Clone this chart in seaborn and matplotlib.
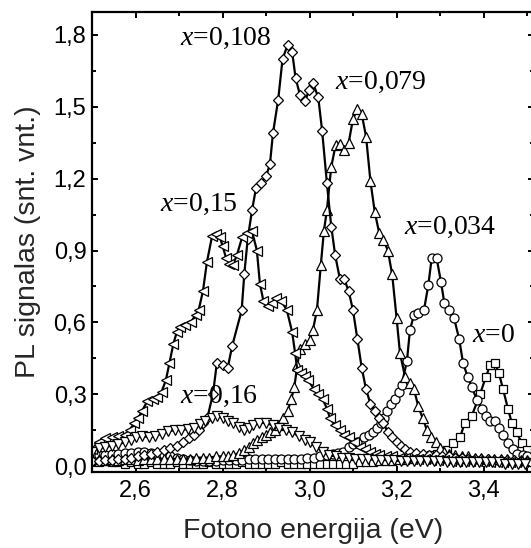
import numpy as np
import pandas as pd
import matplotlib
matplotlib.use("Agg")
import matplotlib.pyplot as plt
from matplotlib.ticker import FixedLocator, FuncFormatter
import seaborn as sns

# ---- data (photon energy eV, PL intensity a.u.) ----
x0_sq = [(2.50,0.02),(2.515,0.015),(2.53,0.02),(2.545,0.015),(2.56,0.015),(2.575,0.01),(2.59,0.015),
         (2.605,0.01),(2.62,0.01),(2.635,0.015),(2.65,0.01),(2.665,0.01),(2.68,0.01),(2.695,0.015),
         (2.71,0.01),(2.725,0.01),(2.74,0.01),(2.755,0.01),(2.77,0.015),(2.785,0.01),(2.80,0.01),
         (2.815,0.01),(2.83,0.01),(2.845,0.015),(2.86,0.01),(2.875,0.01),(2.89,0.01),(2.905,0.01),
         (2.92,0.01),(2.935,0.015),(2.95,0.01),(2.965,0.01),(2.98,0.01),(2.995,0.01),(3.01,0.01),
         (3.025,0.01),(3.04,0.01),(3.055,0.01),(3.07,0.01),(3.085,0.01),(3.10,0.01),(3.115,0.015),
         (3.13,0.015),(3.145,0.015),(3.16,0.02),(3.175,0.02),(3.19,0.02),(3.205,0.025),(3.22,0.025),
         (3.235,0.03),(3.25,0.035),(3.265,0.04),(3.28,0.045),(3.292,0.05),(3.304,0.055),(3.316,0.066),
         (3.33,0.095),(3.346,0.12),(3.357,0.18),(3.373,0.21),(3.392,0.30),(3.405,0.37),(3.415,0.42),
         (3.426,0.43),(3.435,0.39),(3.445,0.32),(3.456,0.24),(3.465,0.18),(3.476,0.14),(3.488,0.096),
         (3.50,0.067)]

x0034_circ = [(2.50,0.04),(2.515,0.045),(2.53,0.045),(2.545,0.05),(2.56,0.05),(2.575,0.055),(2.59,0.055),
              (2.605,0.06),(2.62,0.06),(2.635,0.055),(2.65,0.05),(2.665,0.045),(2.68,0.04),(2.695,0.035),
              (2.71,0.03),(2.725,0.025),(2.74,0.02),(2.755,0.02),(2.77,0.02),(2.785,0.02),(2.80,0.025),
              (2.815,0.025),(2.83,0.025),(2.845,0.025),(2.86,0.03),(2.875,0.03),(2.89,0.03),(2.905,0.03),
              (2.92,0.03),(2.935,0.03),(2.95,0.03),(2.965,0.03),(2.98,0.03),(2.995,0.035),(3.01,0.035),
              (3.025,0.04),(3.04,0.045),(3.055,0.05),(3.066,0.055),(3.077,0.06),(3.09,0.08),(3.10,0.09),
              (3.11,0.10),(3.125,0.12),(3.136,0.13),(3.146,0.14),(3.155,0.16),(3.165,0.18),(3.172,0.20),
              (3.178,0.23),(3.188,0.26),(3.197,0.28),(3.205,0.31),(3.212,0.34),(3.224,0.44),(3.231,0.57),
              (3.24,0.63),(3.25,0.64),(3.263,0.65),(3.273,0.755),(3.281,0.87),(3.292,0.87),(3.302,0.77),
              (3.31,0.68),(3.32,0.65),(3.332,0.62),(3.344,0.53),(3.353,0.43),(3.364,0.37),(3.373,0.33),
              (3.385,0.275),(3.396,0.24),(3.405,0.21),(3.415,0.19),(3.426,0.19),(3.435,0.16),(3.445,0.13),
              (3.456,0.095),(3.467,0.07),(3.478,0.05),(3.49,0.045),(3.50,0.04)]

x0079_tri = [(2.50,0.03),(2.515,0.03),(2.53,0.025),(2.545,0.03),(2.56,0.025),(2.575,0.03),(2.59,0.03),
             (2.605,0.025),(2.62,0.03),(2.635,0.03),(2.65,0.03),(2.665,0.03),(2.68,0.03),(2.695,0.03),
             (2.71,0.03),(2.725,0.03),(2.74,0.035),(2.755,0.035),(2.77,0.035),(2.785,0.04),(2.80,0.04),
             (2.812,0.04),(2.825,0.045),(2.838,0.055),(2.85,0.065),(2.86,0.08),(2.87,0.095),(2.88,0.11),
             (2.89,0.12),(2.90,0.13),(2.91,0.14),(2.92,0.15),(2.93,0.17),(2.94,0.20),(2.95,0.23),
             (2.958,0.28),(2.965,0.33),(2.972,0.42),(2.978,0.49),(2.99,0.51),(3.0,0.525),(3.008,0.57),
             (3.017,0.65),(3.026,0.84),(3.033,0.98),(3.04,1.07),(3.05,1.25),(3.06,1.34),(3.07,1.345),
             (3.08,1.32),(3.09,1.35),(3.10,1.45),(3.11,1.49),(3.12,1.47),(3.13,1.375),(3.14,1.19),
             (3.15,1.06),(3.16,0.975),(3.17,0.945),(3.18,0.90),(3.19,0.80),(3.20,0.62),(3.208,0.47),
             (3.22,0.37),(3.23,0.345),(3.24,0.32),(3.25,0.25),(3.26,0.20),(3.27,0.15),(3.28,0.12),
             (3.29,0.10),(3.30,0.075),(3.31,0.06),(3.32,0.05),(3.335,0.045),(3.35,0.04),(3.365,0.04),
             (3.38,0.035),(3.395,0.035),(3.41,0.03),(3.425,0.03),(3.44,0.03),(3.455,0.03),(3.47,0.025),
             (3.485,0.025),(3.50,0.025)]

x0108_dia = [(2.50,0.02),(2.515,0.02),(2.53,0.025),(2.545,0.025),(2.56,0.03),(2.575,0.03),(2.59,0.035),
             (2.605,0.04),(2.62,0.045),(2.635,0.05),(2.65,0.06),(2.665,0.065),(2.68,0.075),(2.695,0.085),
             (2.71,0.10),(2.722,0.115),(2.734,0.13),(2.745,0.15),(2.755,0.18),(2.765,0.20),(2.778,0.30),
             (2.787,0.43),(2.80,0.42),(2.812,0.41),(2.822,0.50),(2.844,0.65),(2.85,0.80),(2.858,0.95),
             (2.868,1.07),(2.877,1.16),(2.888,1.18),(2.90,1.21),(2.909,1.26),(2.916,1.39),(2.928,1.53),
             (2.938,1.70),(2.95,1.76),(2.96,1.73),(2.968,1.62),(2.978,1.55),(2.99,1.525),(2.999,1.57),
             (3.008,1.60),(3.02,1.54),(3.029,1.40),(3.04,1.18),(3.05,1.0),(3.059,0.88),(3.07,0.78),
             (3.08,0.78),(3.09,0.73),(3.10,0.65),(3.11,0.53),(3.12,0.41),(3.13,0.32),(3.14,0.26),
             (3.15,0.23),(3.16,0.20),(3.17,0.18),(3.18,0.14),(3.19,0.12),(3.20,0.10),(3.21,0.085),
             (3.22,0.07),(3.232,0.06),(3.245,0.055),(3.26,0.05),(3.275,0.045),(3.29,0.045),(3.305,0.04),
             (3.32,0.04),(3.335,0.035),(3.35,0.035),(3.365,0.03),(3.38,0.03),(3.395,0.03),(3.41,0.03),
             (3.425,0.025),(3.44,0.025),(3.455,0.025),(3.47,0.025),(3.485,0.02),(3.50,0.02)]

x015_ltri = [(2.50,0.07),(2.515,0.10),(2.53,0.115),(2.546,0.12),(2.56,0.125),(2.576,0.13),(2.587,0.15),
             (2.597,0.18),(2.606,0.20),(2.615,0.23),(2.627,0.27),(2.64,0.28),(2.65,0.29),(2.66,0.31),
             (2.67,0.36),(2.678,0.43),(2.687,0.51),(2.695,0.56),(2.703,0.58),(2.713,0.59),(2.727,0.60),
             (2.738,0.63),(2.745,0.65),(2.755,0.73),(2.764,0.85),(2.776,0.96),(2.786,0.97),(2.794,0.955),
             (2.80,0.92),(2.808,0.87),(2.816,0.845),(2.824,0.84),(2.833,0.88),(2.845,0.955),(2.856,0.975),
             (2.868,0.98),(2.879,0.90),(2.886,0.76),(2.894,0.69),(2.904,0.67),(2.914,0.68),(2.924,0.70),
             (2.935,0.69),(2.948,0.65),(2.96,0.56),(2.967,0.47),(2.972,0.40),(2.98,0.39),(2.99,0.375),
             (2.997,0.36),(3.01,0.32),(3.02,0.30),(3.03,0.28),(3.04,0.24),(3.047,0.20),(3.058,0.17),
             (3.07,0.15),(3.08,0.13),(3.09,0.12),(3.103,0.10),(3.116,0.08),(3.128,0.07),(3.14,0.06),
             (3.15,0.05),(3.16,0.045),(3.175,0.04),(3.19,0.04),(3.205,0.035),(3.22,0.035),(3.235,0.03),
             (3.25,0.03),(3.265,0.03),(3.28,0.025),(3.295,0.025),(3.31,0.025),(3.325,0.02),(3.34,0.02),
             (3.355,0.02),(3.37,0.02),(3.385,0.02),(3.40,0.02),(3.415,0.015),(3.43,0.015),(3.445,0.015),
             (3.46,0.015),(3.475,0.015),(3.49,0.015),(3.50,0.015)]

x016_dtri = [(2.50,0.06),(2.516,0.075),(2.53,0.08),(2.545,0.085),(2.56,0.09),(2.575,0.10),(2.59,0.11),
             (2.60,0.12),(2.615,0.125),(2.63,0.12),(2.645,0.125),(2.66,0.135),(2.675,0.145),(2.69,0.15),
             (2.705,0.15),(2.72,0.155),(2.735,0.16),(2.748,0.175),(2.76,0.19),(2.775,0.20),(2.787,0.21),
             (2.80,0.20),(2.812,0.19),(2.825,0.18),(2.838,0.165),(2.85,0.15),(2.86,0.16),(2.87,0.17),
             (2.885,0.18),(2.90,0.18),(2.915,0.17),(2.93,0.16),(2.945,0.15),(2.96,0.14),(2.975,0.125),
             (2.99,0.11),(3.00,0.10),(3.015,0.08),(3.03,0.06),(3.045,0.045),(3.06,0.04),(3.075,0.035),
             (3.09,0.035),(3.105,0.03),(3.12,0.03),(3.135,0.03),(3.15,0.025),(3.165,0.025),(3.18,0.025),
             (3.195,0.025),(3.21,0.02),(3.225,0.02),(3.24,0.02),(3.255,0.02),(3.27,0.02),(3.285,0.02),
             (3.30,0.02),(3.315,0.015),(3.33,0.015),(3.345,0.015),(3.36,0.015),(3.375,0.015),(3.39,0.015),
             (3.405,0.015),(3.42,0.015),(3.435,0.015),(3.45,0.01),(3.465,0.01),(3.48,0.01),(3.495,0.01)]

series_labels = ["0", "0,034", "0,079", "0,108", "0,15", "0,16"]
x_ticks = [2.6, 2.8, 3.0, 3.2, 3.4]
y_ticks = [0.0, 0.3, 0.6, 0.9, 1.2, 1.5, 1.8]

# ---- style ----
sns.set_style("ticks")
plt.rcParams['font.family'] = ['Liberation Sans', 'DejaVu Sans']
plt.rcParams['mathtext.fontset'] = 'custom'
plt.rcParams['mathtext.it'] = 'Liberation Serif:italic'
plt.rcParams['mathtext.rm'] = 'Liberation Serif'

fig = plt.figure(figsize=(5.31, 5.48), dpi=100)
ax = fig.add_axes([92/531, 76/548, 442/531, 460/548])

markers = ['s', 'o', '^', 'D', '<', 'v']
msizes = [6.0, 6.5, 7.0, 5.5, 7.0, 7.0]
datasets = [x0_sq, x0034_circ, x0079_tri, x0108_dia, x015_ltri, x016_dtri]
for lab, data, mk, ms in zip(series_labels, datasets, markers, msizes):
    df = pd.DataFrame(data, columns=["E", "I"])
    sns.lineplot(data=df, x="E", y="I", ax=ax, color="black", lw=1.6,
                 marker=mk, markersize=ms, markerfacecolor="white",
                 markeredgecolor="black", markeredgewidth=0.9,
                 sort=False, estimator=None, legend=False)

ax.set_xlim(2.5, 3.516)
ax.set_ylim(-0.025, 1.896)

ax.xaxis.set_major_locator(FixedLocator(x_ticks))
ax.xaxis.set_minor_locator(FixedLocator([2.5, 2.7, 2.9, 3.1, 3.3, 3.5]))
ax.yaxis.set_major_locator(FixedLocator(y_ticks))
ax.yaxis.set_minor_locator(FixedLocator([0.15, 0.45, 0.75, 1.05, 1.35, 1.65]))
fmt = FuncFormatter(lambda v, p: f"{v:.1f}".replace(".", ","))
ax.xaxis.set_major_formatter(fmt)
ax.yaxis.set_major_formatter(fmt)

ax.tick_params(which='both', direction='in', top=True, right=True, width=1.4, colors='black')
ax.tick_params(which='major', length=4.5, labelsize=17)
ax.tick_params(which='minor', length=3.0)
ax.tick_params(axis='x', which='major', pad=6)
ax.tick_params(axis='y', which='major', pad=4)
for s in ax.spines.values():
    s.set_linewidth(1.6)
    s.set_color('black')

ax.set_xlabel("Fotono energija (eV)", fontsize=20.5, labelpad=11)
ax.set_ylabel("PL signalas (snt. vnt.)", fontsize=20.5, labelpad=9)

ann = [("0,108", 2.808, 1.786), ("0,079", 3.164, 1.60), ("0,15", 2.746, 1.094),
       ("0,034", 3.323, 0.998), ("0", 3.424, 0.547), ("0,16", 2.792, 0.292)]
for txt, xx, yy in ann:
    ax.text(xx, yy, "$x$=" + txt, fontsize=20, family='Liberation Serif',
            ha='center', va='center', color='black')

fig.savefig("out.png", dpi=100)
